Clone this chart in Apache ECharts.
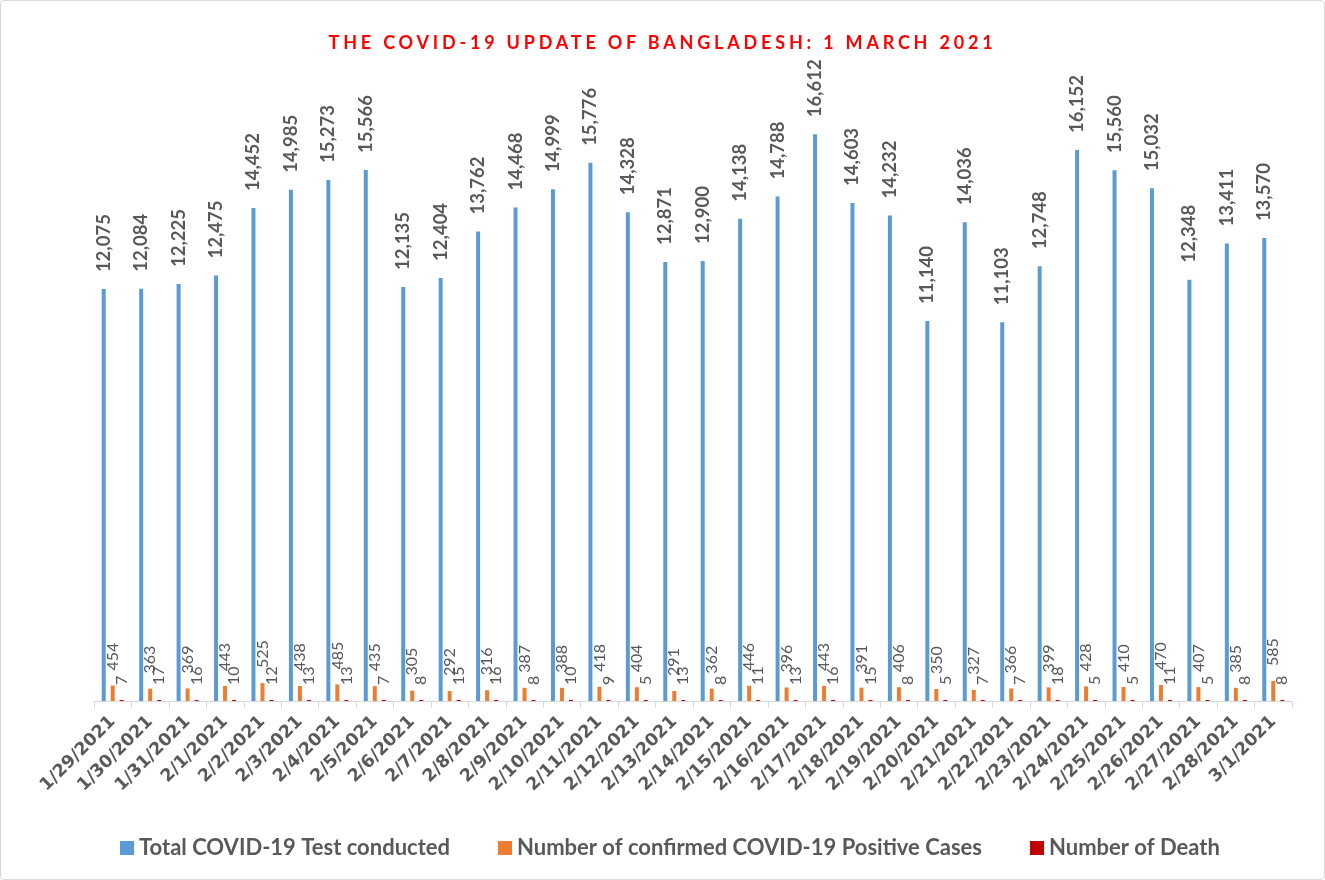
<!DOCTYPE html>
<html>
<head>
<meta charset="utf-8">
<script src="https://cdn.jsdelivr.net/npm/echarts@6/dist/echarts.min.js"></script>
<style>
  html, body { margin: 0; padding: 0; background: #ffffff; }
  #wrap { position: relative; width: 1325px; height: 880px; }
  #chart { position: absolute; left: 0; top: 0; width: 1325px; height: 880px; }
  #frame { position: absolute; left: 0; top: 0; width: 1323px; height: 878px; border: 1px solid #d9d9d9; border-radius: 4px; pointer-events: none; }
  #title { position: absolute; left: 0; top: 30px; width: 1325px; text-align: center;
           font-family: Lato, "Open Sans", sans-serif; font-weight: bold; font-size: 18px;
           letter-spacing: 3.8px; color: #ff0000; line-height: 24px; pointer-events: none; }
</style>
</head>
<body>
<div id="wrap">
  <div id="chart"></div>
  <div id="frame"></div>
  <div id="title">THE COVID-19 UPDATE OF BANGLADESH: 1 MARCH 2021</div>
</div>
<script>
const categories = ['1/29/2021','1/30/2021','1/31/2021','2/1/2021','2/2/2021','2/3/2021','2/4/2021','2/5/2021','2/6/2021','2/7/2021','2/8/2021','2/9/2021','2/10/2021','2/11/2021','2/12/2021','2/13/2021','2/14/2021','2/15/2021','2/16/2021','2/17/2021','2/18/2021','2/19/2021','2/20/2021','2/21/2021','2/22/2021','2/23/2021','2/24/2021','2/25/2021','2/26/2021','2/27/2021','2/28/2021','3/1/2021'];
const testsConducted = [12075,12084,12225,12475,14452,14985,15273,15566,12135,12404,13762,14468,14999,15776,14328,12871,12900,14138,14788,16612,14603,14232,11140,14036,11103,12748,16152,15560,15032,12348,13411,13570];
const positiveCases = [454,363,369,443,525,438,485,435,305,292,316,387,388,418,404,291,362,446,396,443,391,406,350,327,366,399,428,410,470,407,385,585];
const deaths = [7,17,16,10,12,13,13,7,8,15,16,8,10,9,5,13,8,11,13,16,15,8,5,7,7,18,5,5,11,5,8,8];
const seriesNames = ['Total COVID-19 Test conducted','Number of confirmed COVID-19 Positive Cases','Number of Death'];

const chart = echarts.init(document.getElementById('chart'), null, { renderer: 'canvas' });
const FONT = 'Lato, "Open Sans", sans-serif';
const labelBase = {
  show: true, position: 'top', rotate: 90, align: 'left', verticalAlign: 'middle',
  distance: 15, color: '#595959', fontFamily: FONT, fontSize: 16,
  formatter: p => p.value.toLocaleString('en-US')
};
chart.setOption({
  animation: false,
  backgroundColor: '#ffffff',
  grid: { left: 94, right: 33, top: 87, bottom: 179 },
  legend: {
    data: seriesNames, bottom: 16, left: 115, icon: 'rect',
    itemWidth: 14, itemHeight: 14, itemGap: 48,
    textStyle: { color: '#595959', fontFamily: FONT, fontSize: 22, fontWeight: 'bold' }
  },
  xAxis: {
    type: 'category', data: categories, boundaryGap: true,
    axisLine: { lineStyle: { color: '#d9d9d9', width: 1 } },
    axisTick: { show: true, alignWithLabel: false, length: 7, lineStyle: { color: '#d9d9d9' } },
    axisLabel: { rotate: 45, interval: 0, margin: 18, color: '#595959', fontFamily: '"DejaVu Sans", sans-serif', fontSize: 17.5, fontWeight: 'bold' }
  },
  yAxis: { type: 'value', min: 0, max: 18000, show: false, splitLine: { show: false } },
  series: [
    { name: seriesNames[0], type: 'bar', data: testsConducted, barWidth: 4, barGap: '125%',
      itemStyle: { color: '#5b9bd5' },
      label: Object.assign({}, labelBase, { fontWeight: 'bold', fontSize: 18.5, distance: 17 }) },
    { name: seriesNames[1], type: 'bar', data: positiveCases, barWidth: 4, barGap: '125%',
      itemStyle: { color: '#ed7d31' }, label: labelBase },
    { name: seriesNames[2], type: 'bar', data: deaths, barWidth: 4, barGap: '125%', barMinHeight: 1,
      itemStyle: { color: '#c00000' }, label: labelBase }
  ]
});
</script>
</body>
</html>
